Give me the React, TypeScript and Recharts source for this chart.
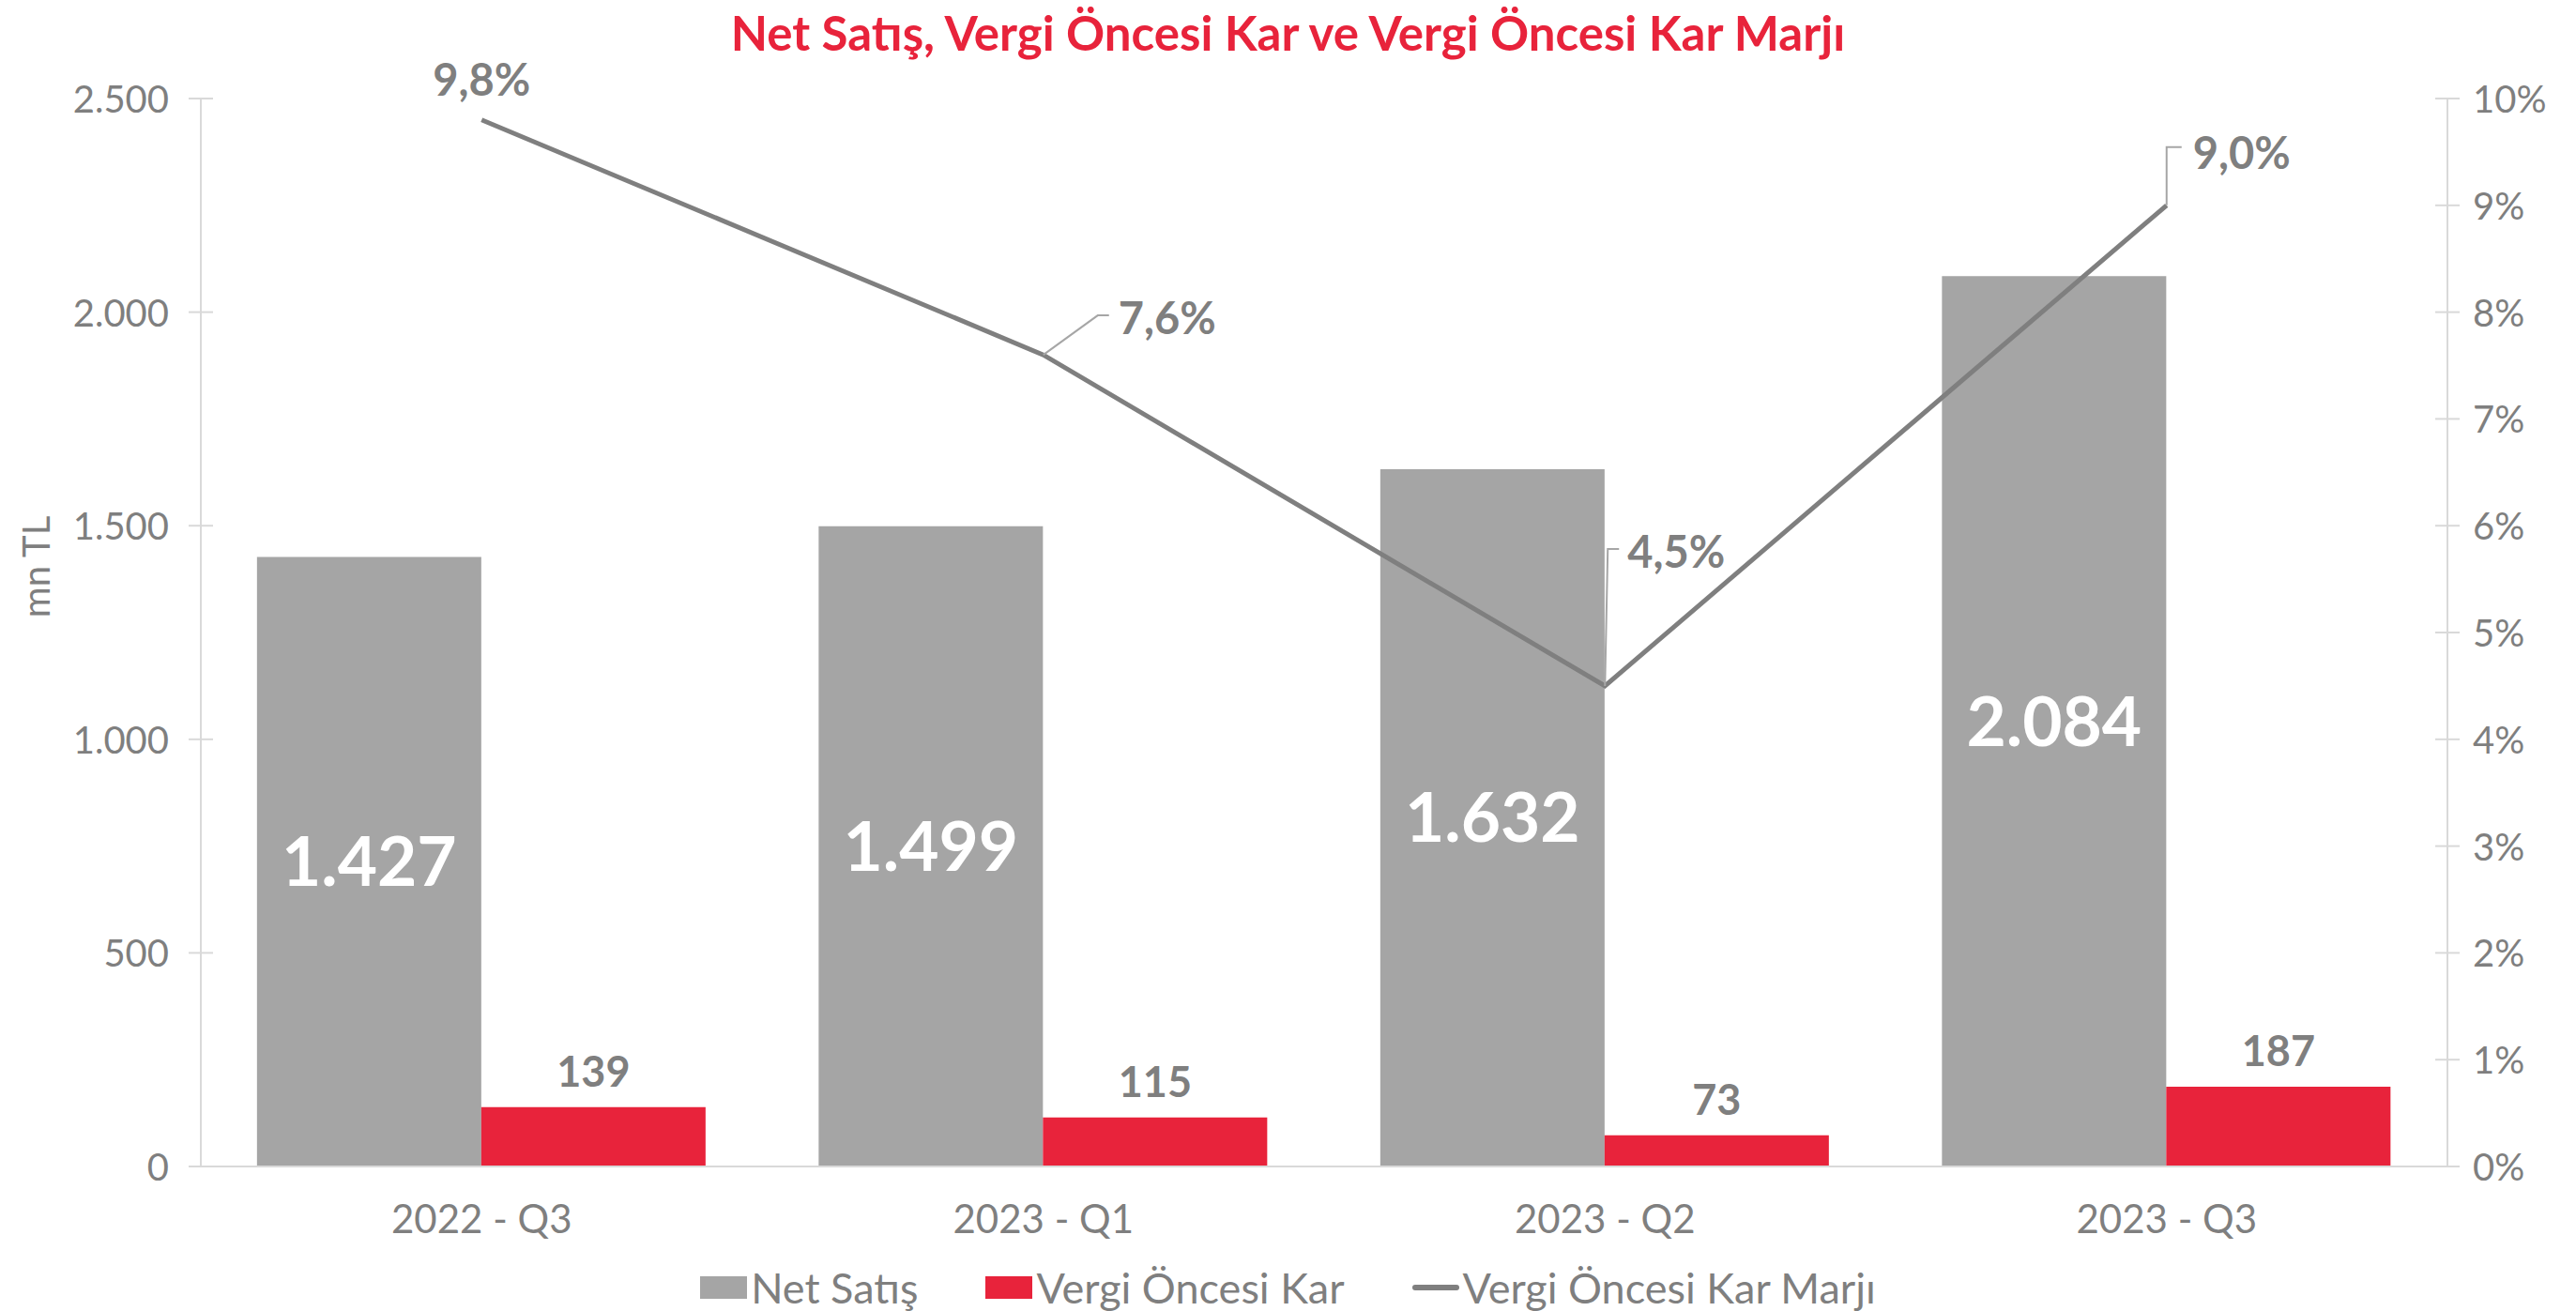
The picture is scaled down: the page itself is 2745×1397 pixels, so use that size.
import { ComposedChart, Bar, Line, XAxis, YAxis, Legend, LabelList } from 'recharts'

const quarters = ['2022 - Q3', '2023 - Q1', '2023 - Q2', '2023 - Q3']
const netSales = [1427, 1499, 1632, 2084]
const preTaxProfit = [139, 115, 73, 187]
const preTaxMargin = [9.8, 7.6, 4.5, 9.0]

const leftTicks = [0, 500, 1000, 1500, 2000, 2500]
const rightTicks = [0, 1, 2, 3, 4, 5, 6, 7, 8, 9, 10]

const data = quarters.map((q, i) => ({
  quarter: q,
  netSales: netSales[i],
  preTaxProfit: preTaxProfit[i],
  margin: preTaxMargin[i],
}))

const GRAY = '#A5A5A5'
const RED = '#E8233B'
const LINE = '#7F7F7F'
const TEXT = '#7F7F7F'
const AXIS = '#D9D9D9'
const FONT = 'Lato, "Open Sans", sans-serif'

const fmtThousands = (v: number) => v.toLocaleString('de-DE')
const fmtMargin = (v: number) => `${v.toFixed(1).replace('.', ',')}%`

// leader line + label placement for the margin labels (relative to the point)
const marginLabelLayout = [
  { leader: null as number[][] | null, dx: 0, dy: -44, anchor: 'middle' },
  { leader: [[0, 0], [58, -42], [70, -42]], dx: 80, dy: -40, anchor: 'start' },
  { leader: [[0, 0], [3, -146], [15, -146]], dx: 24, dy: -144, anchor: 'start' },
  { leader: [[0, 0], [0, -62], [16, -62]], dx: 28, dy: -57, anchor: 'start' },
]

function MarginLabel(props: any) {
  const { x, y, value, index } = props
  const l = marginLabelLayout[index]
  if (!l) return null
  return (
    <g>
      {l.leader && (
        <polyline
          points={l.leader.map((p) => `${x + p[0]},${y + p[1]}`).join(' ')}
          fill="none"
          stroke="#A6A6A6"
          strokeWidth={2}
        />
      )}
      <text
        x={x + l.dx}
        y={y + l.dy}
        textAnchor={l.anchor as any}
        dominantBaseline="central"
        fill={TEXT}
        fontSize={47}
        fontWeight={700}
        fontFamily={FONT}
      >
        {fmtMargin(value)}
      </text>
    </g>
  )
}

function LeftTick(props: any) {
  const { x, y, payload } = props
  return (
    <g>
      <line x1={x + 34 - 13} x2={x + 34 + 13} y1={y} y2={y} stroke={AXIS} strokeWidth={2} />
      <text x={x} y={y} textAnchor="end" dominantBaseline="central" fill={TEXT} fontSize={40} fontFamily={FONT}>
        {fmtThousands(payload.value)}
      </text>
    </g>
  )
}

function RightTick(props: any) {
  const { x, y, payload } = props
  return (
    <g>
      <line x1={x - 27 - 13} x2={x - 27 + 13} y1={y} y2={y} stroke={AXIS} strokeWidth={2} />
      <text x={x} y={y} textAnchor="start" dominantBaseline="central" fill={TEXT} fontSize={40} fontFamily={FONT}>
        {`${payload.value}%`}
      </text>
    </g>
  )
}

function AxisTitle() {
  return (
    <text
      x={38}
      y={604}
      transform="rotate(-90, 38, 604)"
      textAnchor="middle"
      dominantBaseline="central"
      fill={TEXT}
      fontSize={40}
      fontFamily={FONT}
    >
      mn TL
    </text>
  )
}

function LegendContent() {
  const item = (marker: any, label: string) => (
    <div style={{ display: 'flex', alignItems: 'center', margin: '0 36px' }}>
      {marker}
      <span style={{ marginLeft: 4, fontSize: 45, color: TEXT, fontFamily: FONT }}>{label}</span>
    </div>
  )
  return (
    <div style={{ display: 'flex', justifyContent: 'center', alignItems: 'center', height: 74, paddingTop: 24, boxSizing: 'border-box' }}>
      {item(<div style={{ width: 50, height: 24, background: GRAY }} />, 'Net Satış')}
      {item(<div style={{ width: 50, height: 24, background: RED }} />, 'Vergi Öncesi Kar')}
      {item(<div style={{ width: 50, height: 6, borderRadius: 3, background: LINE }} />, 'Vergi Öncesi Kar Marjı')}
    </div>
  )
}

export default function App() {
  return (
    <div style={{ position: 'absolute', left: 0, top: 0, width: 2745, height: 1397, background: '#fff', fontFamily: FONT }}>
      <div
        style={{
          position: 'absolute', top: 0, left: 0, width: 2745, height: 70, lineHeight: '70px',
          textAlign: 'center', color: RED, fontWeight: 700, fontSize: 51, fontFamily: FONT,
        }}
      >
        Net Satış, Vergi Öncesi Kar ve Vergi Öncesi Kar Marjı
      </div>
      <ComposedChart
        width={2745}
        height={1397}
        data={data}
        margin={{ top: 105, right: 0, bottom: 0, left: 0 }}
        barCategoryGap="10%"
        barGap={0}
      >
        <XAxis
          dataKey="quarter"
          height={80}
          tickLine={false}
          tickSize={0}
          tickMargin={41}
          axisLine={{ stroke: AXIS, strokeWidth: 2 }}
          tick={{ fill: TEXT, fontSize: 42, fontFamily: FONT }}
        />
        <YAxis
          yAxisId="left"
          width={214}
          domain={[0, 2500]}
          ticks={leftTicks}
          tickLine={false}
          tickSize={0}
          tickMargin={34}
          axisLine={{ stroke: AXIS, strokeWidth: 2 }}
          tick={<LeftTick />}
          label={{ content: <AxisTitle /> }}
        />
        <YAxis
          yAxisId="right"
          orientation="right"
          width={137}
          domain={[0, 10]}
          ticks={rightTicks}
          tickLine={false}
          tickSize={0}
          tickMargin={27}
          axisLine={{ stroke: AXIS, strokeWidth: 2 }}
          tick={<RightTick />}
        />
        <Legend verticalAlign="bottom" height={74} content={<LegendContent />} wrapperStyle={{ left: 0, width: 2745, bottom: 0 }} />
        <Bar yAxisId="left" dataKey="netSales" name="Net Satış" fill={GRAY} isAnimationActive={false}>
          <LabelList
            dataKey="netSales"
            position="center"
            formatter={(v: any) => fmtThousands(v)}
            style={{ fill: '#fff', fontSize: 73, fontWeight: 700, fontFamily: FONT }}
          />
        </Bar>
        <Bar yAxisId="left" dataKey="preTaxProfit" name="Vergi Öncesi Kar" fill={RED} isAnimationActive={false}>
          <LabelList
            dataKey="preTaxProfit"
            position="top"
            offset={22}
            style={{ fill: TEXT, fontSize: 45, fontWeight: 700, fontFamily: FONT }}
          />
        </Bar>
        <Line
          yAxisId="right"
          dataKey="margin"
          name="Vergi Öncesi Kar Marjı"
          stroke={LINE}
          strokeWidth={5}
          dot={false}
          activeDot={false}
          type="linear"
          isAnimationActive={false}
        >
          <LabelList dataKey="margin" content={<MarginLabel />} />
        </Line>
      </ComposedChart>
    </div>
  )
}
